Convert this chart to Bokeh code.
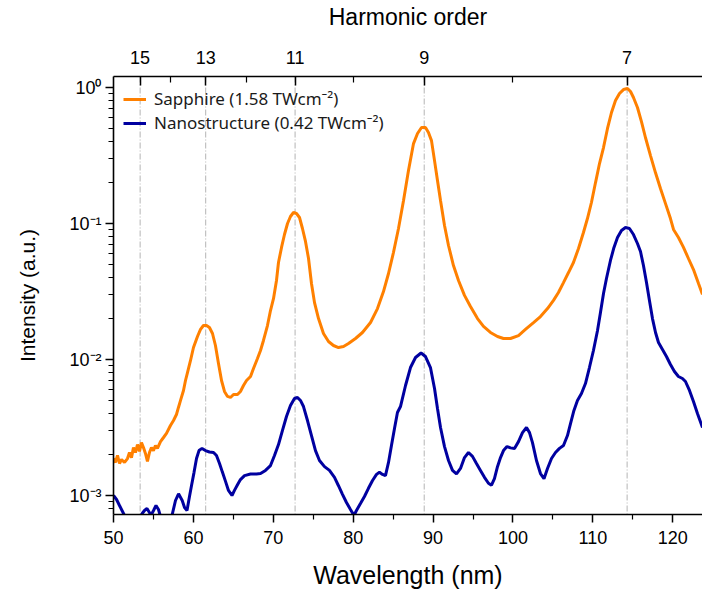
from bokeh.plotting import figure
from bokeh.models import (Range1d, LinearAxis, FixedTicker, CustomJSTickFormatter,
                          Span, Legend, LegendItem)
from bokeh.embed import file_html
from bokeh.resources import INLINE

# ---------------- data ----------------
fundamental_nm = 800.0
harmonic_orders = [15, 13, 11, 9, 7]
harmonic_minor_orders = [14, 12, 10, 8]

x_ticks = [50, 60, 70, 80, 90, 100, 110, 120]
x_minor_ticks = [55, 65, 75, 85, 95, 105, 115, 125]
y_ticks = [1e-3, 1e-2, 1e-1, 1.0]
y_tick_labels = ["10\u207b\u00b3", "10\u207b\u00b2", "10\u207b\u00b9", "10\u2070"]

sapphire_label = "Sapphire (1.58 TWcm\u207b\u00b2)"
nano_label = "Nanostructure (0.42 TWcm\u207b\u00b2)"

sapphire_wl = [
    50.00, 50.25, 50.50, 50.75, 51.00, 51.38, 51.75, 52.00, 52.25, 52.50,
    52.75, 53.00, 53.25, 53.50, 53.75, 54.00, 54.25, 54.50, 54.75, 55.00,
    55.25, 55.50, 55.88, 56.26, 56.63, 57.13, 57.51, 57.88, 58.13, 58.39,
    58.76, 59.01, 59.26, 59.64, 60.01, 60.51, 60.89, 61.26, 61.64, 62.01,
    62.39, 62.76, 63.14, 63.52, 63.89, 64.27, 64.64, 65.02, 65.52, 65.89,
    66.27, 66.65, 67.15, 67.52, 68.02, 68.40, 68.77, 69.27, 69.65, 70.03,
    70.40, 70.65, 71.03, 71.40, 71.78, 72.15, 72.53, 72.90, 73.28, 73.65,
    74.03, 74.41, 74.78, 75.16, 75.66, 76.28, 76.91, 77.53, 78.16, 78.79,
    79.41, 80.29, 81.16, 82.17, 83.04, 83.79, 84.42, 85.04, 85.67, 86.30,
    86.92, 87.55, 88.05, 88.55, 89.05, 89.42, 89.80, 90.18, 90.55, 90.93,
    91.43, 91.93, 92.55, 93.18, 93.93, 94.68, 95.56, 96.31, 97.18, 98.06,
    98.81, 99.69, 100.69, 101.56, 102.57, 103.44, 104.32, 105.07, 105.69, 106.32,
    106.95, 107.57, 108.20, 108.82, 109.32, 109.82, 110.33, 110.83, 111.33, 111.83,
    112.33, 112.83, 113.33, 113.83, 114.33, 114.71, 115.08, 115.58, 116.08, 116.58,
    117.21, 117.83, 118.46, 119.09, 119.71, 120.09, 120.71, 121.34, 121.96, 122.59,
    123.22, 123.72,
]
sapphire_int = [
    1.87e-3, 1.75e-3, 1.97e-3, 1.72e-3, 1.84e-3, 1.75e-3, 1.87e-3, 2.07e-3, 1.90e-3, 2.25e-3,
    2.07e-3, 2.37e-3, 2.11e-3, 2.45e-3, 2.25e-3, 2.04e-3, 1.78e-3, 2.07e-3, 2.25e-3, 2.14e-3,
    2.33e-3, 2.22e-3, 2.49e-3, 2.67e-3, 2.86e-3, 3.27e-3, 3.56e-3, 3.94e-3, 4.44e-3, 5.00e-3,
    5.92e-3, 7.01e-3, 8.02e-3, 9.84e-3, 0.01225, 0.01476, 0.01663, 0.01778, 0.01778, 0.01719,
    0.01553, 0.01268, 9.35e-3, 7.01e-3, 5.82e-3, 5.35e-3, 5.26e-3, 5.53e-3, 5.53e-3, 5.82e-3,
    6.44e-3, 7.01e-3, 7.50e-3, 8.59e-3, 0.01017, 0.01165, 0.0138, 0.01778, 0.0229, 0.0281,
    0.0381, 0.0517, 0.0667, 0.0830, 0.1000, 0.1126, 0.1205, 0.1184, 0.1107, 0.0919,
    0.0738, 0.0553, 0.0362, 0.0262, 0.0200, 0.01553, 0.01356, 0.01268, 0.01225, 0.01246,
    0.01311, 0.01427, 0.01580, 0.0187, 0.0237, 0.0316, 0.0429, 0.0612, 0.0919, 0.1476,
    0.2453, 0.387, 0.459, 0.508, 0.508, 0.467, 0.407, 0.290, 0.207, 0.1476,
    0.0966, 0.0689, 0.0491, 0.0381, 0.0296, 0.0245, 0.0200, 0.0175, 0.0158, 0.01476,
    0.01427, 0.01427, 0.0150, 0.01663, 0.0187, 0.0207, 0.0237, 0.0272, 0.0311, 0.0368,
    0.0436, 0.0517, 0.0655, 0.0859, 0.1088, 0.1427, 0.200, 0.276, 0.362, 0.500,
    0.655, 0.802, 0.904, 0.966, 0.984, 0.935, 0.844, 0.713, 0.562, 0.429,
    0.316, 0.237, 0.181, 0.140, 0.1088, 0.0904, 0.0789, 0.0667, 0.0553, 0.0459,
    0.0362, 0.0301,
]

nano_wl = [
    50.00, 50.38, 50.75, 51.13, 51.50, 52.50, 53.59, 53.88, 54.19, 54.57,
    54.69, 55.01, 55.32, 55.63, 55.88, 56.63, 57.35, 57.76, 58.14, 58.60,
    58.89, 59.20, 59.51, 59.76, 60.08, 60.39, 60.70, 61.08, 61.51, 62.01,
    62.52, 62.89, 63.27, 63.64, 64.02, 64.39, 64.83, 65.14, 65.52, 65.89,
    66.40, 67.15, 67.90, 68.40, 69.02, 69.65, 70.15, 70.65, 71.15, 71.65,
    72.15, 72.65, 73.03, 73.40, 73.78, 74.28, 74.78, 75.28, 75.78, 76.41,
    77.03, 77.66, 78.16, 78.66, 79.16, 79.66, 80.10, 80.41, 80.91, 81.41,
    81.91, 82.42, 82.92, 83.29, 83.67, 84.04, 84.42, 84.79, 85.17, 85.54,
    85.92, 86.55, 87.17, 87.80, 88.49, 89.05, 89.67, 90.18, 90.55, 90.93,
    91.43, 91.93, 92.43, 92.93, 93.43, 93.93, 94.43, 94.93, 95.43, 95.93,
    96.43, 96.93, 97.31, 97.68, 98.06, 98.44, 98.81, 99.25, 99.69, 100.19,
    100.69, 101.19, 101.69, 102.07, 102.44, 102.94, 103.44, 103.88, 104.32, 104.82,
    105.32, 105.82, 106.32, 106.82, 107.20, 107.63, 108.07, 108.57, 109.07, 109.57,
    110.07, 110.58, 110.95, 111.33, 111.70, 112.20, 112.64, 113.08, 113.58, 114.08,
    114.58, 115.08, 115.58, 115.96, 116.33, 116.71, 117.08, 117.46, 117.84, 118.21,
    118.71, 119.21, 119.71, 120.21, 120.71, 121.21, 121.59, 122.09, 122.59, 123.09,
    123.72,
]
nano_int = [
    1.00e-3, 9.35e-4, 8.44e-4, 7.63e-4, 6.89e-4, 5.72e-4, 7.37e-4, 7.76e-4, 8.02e-4, 7.37e-4,
    7.13e-4, 7.76e-4, 8.44e-4, 7.89e-4, 7.01e-4, 6.02e-4, 7.25e-4, 9.19e-4, 1.03e-3, 9.19e-4,
    8.16e-4, 7.76e-4, 9.83e-4, 1.18e-3, 1.48e-3, 1.87e-3, 2.14e-3, 2.22e-3, 2.14e-3, 2.09e-3,
    2.07e-3, 1.97e-3, 1.72e-3, 1.48e-3, 1.27e-3, 1.09e-3, 1.00e-3, 1.09e-3, 1.20e-3, 1.31e-3,
    1.40e-3, 1.44e-3, 1.44e-3, 1.45e-3, 1.53e-3, 1.66e-3, 1.97e-3, 2.37e-3, 3.01e-3, 3.81e-3,
    4.59e-3, 5.17e-3, 5.26e-3, 5.00e-3, 4.51e-3, 3.56e-3, 2.76e-3, 2.14e-3, 1.81e-3, 1.63e-3,
    1.53e-3, 1.36e-3, 1.18e-3, 1.02e-3, 8.88e-4, 7.89e-4, 7.13e-4, 7.76e-4, 8.73e-4, 9.83e-4,
    1.13e-3, 1.29e-3, 1.43e-3, 1.48e-3, 1.43e-3, 1.40e-3, 1.75e-3, 2.33e-3, 3.11e-3, 4.08e-3,
    4.51e-3, 6.44e-3, 8.73e-3, 0.01034, 0.01116, 0.01052, 8.73e-3, 6.12e-3, 4.36e-3, 3.16e-3,
    2.29e-3, 1.81e-3, 1.53e-3, 1.44e-3, 1.58e-3, 1.90e-3, 2.07e-3, 1.94e-3, 1.72e-3, 1.53e-3,
    1.36e-3, 1.23e-3, 1.19e-3, 1.33e-3, 1.63e-3, 1.90e-3, 2.14e-3, 2.29e-3, 2.24e-3, 2.22e-3,
    2.49e-3, 2.90e-3, 3.16e-3, 2.90e-3, 2.45e-3, 1.81e-3, 1.45e-3, 1.33e-3, 1.58e-3, 1.87e-3,
    2.07e-3, 2.22e-3, 2.33e-3, 2.76e-3, 3.38e-3, 4.22e-3, 5.00e-3, 5.62e-3, 6.66e-3, 8.73e-3,
    0.01165, 0.01634, 0.0222, 0.0306, 0.0394, 0.0535, 0.0667, 0.0789, 0.0889, 0.0935,
    0.0919, 0.0830, 0.0713, 0.0622, 0.0491, 0.0368, 0.0272, 0.0200, 0.0158, 0.01334,
    0.01184, 0.01052, 9.19e-3, 8.16e-3, 7.50e-3, 7.25e-3, 6.89e-3, 5.92e-3, 4.91e-3, 4.01e-3,
    3.16e-3,
]

# ---------------- figure ----------------
AX_FONT = "Liberation Sans"

p = figure(width=702, height=592, y_axis_type="log",
           x_range=Range1d(50, 123.72), y_range=Range1d(7.25e-4, 1.205),
           output_backend="svg", toolbar_location=None,
           min_border_left=113, min_border_right=0,
           min_border_top=76, min_border_bottom=78)
p.outline_line_color = None
p.grid.visible = False
p.background_fill_color = "white"
p.border_fill_color = "white"

# harmonic guide lines
for n in harmonic_orders:
    p.add_layout(Span(location=fundamental_nm / n, dimension="height",
                      line_color="#b4b4b4", line_width=1, line_dash="6 2 1 2",
                      level="underlay"))

r_sap = p.line(sapphire_wl, sapphire_int, line_color="#ff8000", line_width=3)
r_nano = p.line(nano_wl, nano_int, line_color="#0000a0", line_width=3)

# bottom axis
xa = p.xaxis[0]
xa.ticker = FixedTicker(ticks=x_ticks, minor_ticks=x_minor_ticks)
xa.axis_label = "Wavelength (nm)"

# left axis
ya = p.yaxis[0]
y_minor = [k * d for d in [1e-4, 1e-3, 1e-2, 1e-1, 1.0] for k in range(2, 10)]
ya.ticker = FixedTicker(ticks=y_ticks, minor_ticks=y_minor)
ya.formatter = CustomJSTickFormatter(
    args=dict(ytick_vals=y_ticks, ytick_text=y_tick_labels),
    code="""
    for (let i = 0; i < ytick_vals.length; i++) {
        if (Math.abs(Math.log10(ytick_vals[i]) - Math.log10(tick)) < 1e-6) return ytick_text[i];
    }
    return "";
    """)
ya.axis_label = "Intensity (a.u.)"

# top axis: harmonic order
top = LinearAxis(
    ticker=FixedTicker(ticks=[fundamental_nm / n for n in harmonic_orders],
                       minor_ticks=[fundamental_nm / n for n in harmonic_minor_orders]),
    formatter=CustomJSTickFormatter(args=dict(fund_nm=fundamental_nm),
                                    code="return String(Math.round(fund_nm / tick));"),
    axis_label="Harmonic order")
p.add_layout(top, "above")

for ax in [xa, ya, top]:
    ax.axis_line_color = "black"
    ax.axis_line_width = 1.6
    ax.major_tick_line_color = "black"
    ax.minor_tick_line_color = "black"
    ax.major_tick_line_width = 1.5
    ax.minor_tick_line_width = 1.2
    ax.major_label_text_font = AX_FONT
    ax.major_label_text_font_size = "18px"
    ax.major_label_text_color = "black"
    ax.axis_label_text_font = AX_FONT
    ax.axis_label_text_font_style = "normal"
    ax.axis_label_text_color = "black"

xa.axis_label_text_font_size = "25px"
ya.axis_label_text_font_size = "21px"
top.axis_label_text_font_size = "23px"

for ax in [xa, ya]:
    ax.major_tick_out = 8
    ax.major_tick_in = 0
    ax.minor_tick_out = 5
    ax.minor_tick_in = 0

xa.major_label_standoff = 8
ya.major_label_standoff = 4
xa.axis_label_standoff = 14
ya.axis_label_standoff = 27

top.major_tick_in = 9
top.major_tick_out = 0
top.minor_tick_in = 6
top.minor_tick_out = 0
top.major_label_standoff = 13
top.axis_label_standoff = 18

legend = Legend(items=[LegendItem(label=sapphire_label, renderers=[r_sap]),
                       LegendItem(label=nano_label, renderers=[r_nano])],
                location=(10, 380), margin=0, padding=0, spacing=1,
                glyph_width=23, glyph_height=20, label_height=20,
                label_standoff=8,
                border_line_color=None, background_fill_alpha=0,
                label_text_font="Noto Sans", label_text_font_size="17px",
                label_text_color="#1a1a1a")
p.add_layout(legend)

open("out.html", "w").write(file_html(p, INLINE))
